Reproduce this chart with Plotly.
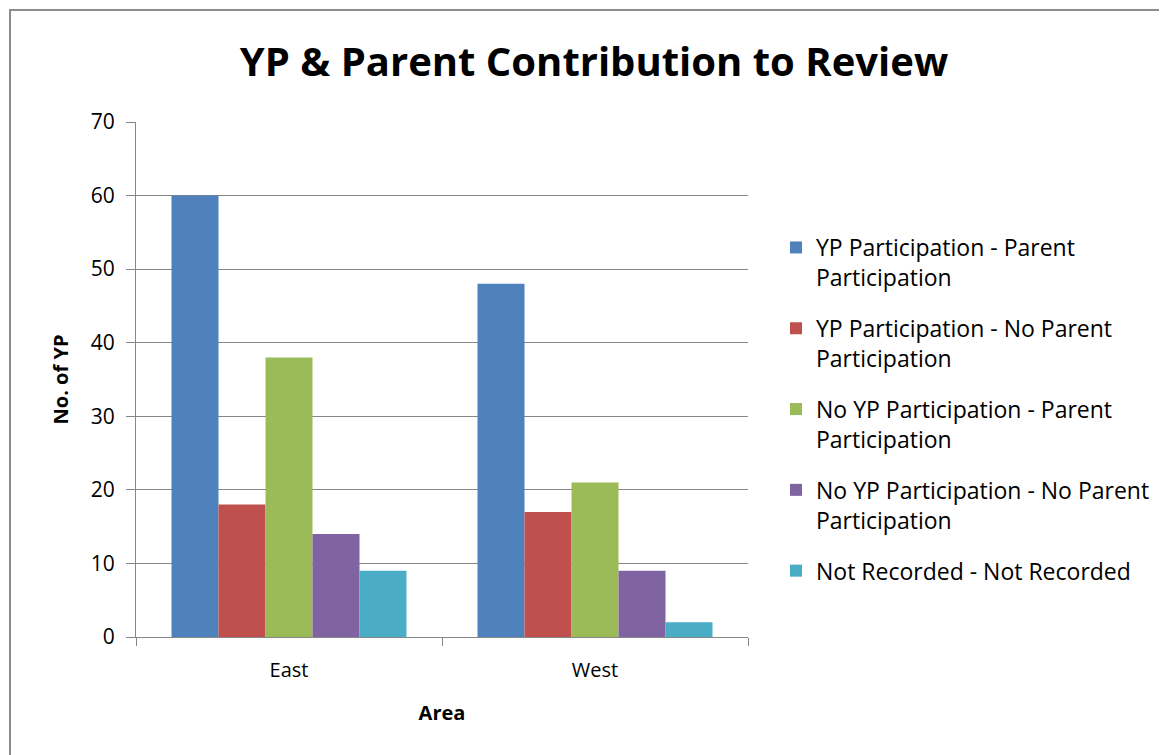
import plotly.graph_objects as go

areas = ["East", "West"]
series_names = [
    "YP Participation - Parent<br>Participation",
    "YP Participation - No Parent<br>Participation",
    "No YP Participation - Parent<br>Participation",
    "No YP Participation - No Parent<br>Participation",
    "Not Recorded - Not Recorded",
]
yp_parent = [60, 48]
yp_no_parent = [18, 17]
no_yp_parent = [38, 21]
no_yp_no_parent = [14, 9]
not_recorded = [9, 2]
colors = ["#4F81BD", "#C0504D", "#9BBB59", "#8064A2", "#4BACC6"]
y_ticks = [0, 10, 20, 30, 40, 50, 60, 70]

series_values = [yp_parent, yp_no_parent, no_yp_parent, no_yp_no_parent, not_recorded]

FONT = "Open Sans"
fig = go.Figure()
for i, (name, vals, col) in enumerate(zip(series_names, series_values, colors)):
    fig.add_trace(go.Bar(x=areas, y=vals, name=name, marker=dict(color=col, line=dict(width=0)),
                         legendgroup=f"g{i}"))

OFF = 8  # page body margin
W, H = 1167 - OFF, 755 - OFF
L, T = 136 - OFF, 122 - OFF
R = W - (748 - OFF)
B = H - (637 - OFF)
pw, ph = W - L - R, H - T - B

def px(x):  # page x -> paper x
    return (x - OFF - L) / pw

def py(y):  # page y -> paper y
    return (H - B - (y - OFF)) / ph

fig.update_layout(
    width=W, height=H,
    margin=dict(l=L, r=R, t=T, b=B),
    paper_bgcolor="white", plot_bgcolor="white",
    barmode="group", bargap=0.232, bargroupgap=0,
    font=dict(family=FONT, color="#000000"),
    title=dict(text="<b>YP &amp; Parent Contribution to Review</b>", xref="container",
               x=(594 - OFF) / W, xanchor="center", y=1 - (62 - OFF) / H, yanchor="middle",
               font=dict(family=FONT, size=40, color="#000000")),
    showlegend=True,
    legend=dict(x=px(776), y=py(226), xanchor="left", yanchor="top", valign="top",
                font=dict(family=FONT, size=23, color="#000000"),
                traceorder="grouped", tracegroupgap=18, itemwidth=30,
                bgcolor="rgba(0,0,0,0)"),
    xaxis=dict(type="category", showgrid=False, showline=True, linecolor="#868686", linewidth=1,
               ticks="outside", tickson="boundaries", ticklen=8, tickcolor="#868686",
               ticklabelstandoff=15,
               tickfont=dict(family=FONT, size=20, color="#000000"),
               title=dict(text="<b>Area</b>", font=dict(family=FONT, size=20, color="#000000"), standoff=23)),
    yaxis=dict(range=[0, 70], tickvals=y_ticks, showgrid=True, gridcolor="#868686", gridwidth=1,
               showline=True, linecolor="#868686", linewidth=1, zeroline=False,
               ticks="outside", ticklen=9, tickcolor="#868686",
               ticklabelstandoff=7,
               tickfont=dict(family=FONT, size=21, color="#000000"),
               title=dict(text="<b>No. of YP</b>", font=dict(family=FONT, size=20, color="#000000"), standoff=16)),
)

fig.add_shape(type="rect", xref="paper", yref="paper",
              x0=px(10), x1=px(1180), y0=py(770), y1=py(10),
              line=dict(color="#8C8C8C", width=2), fillcolor="rgba(0,0,0,0)", layer="below")

fig.add_annotation(text="<b>Graph 7</b>", xref="paper", yref="paper", x=px(10), y=py(OFF + 2),
                   xanchor="left", yanchor="bottom", showarrow=False,
                   font=dict(family=FONT, size=22, color="#000000"))

fig.write_html("out.html")
